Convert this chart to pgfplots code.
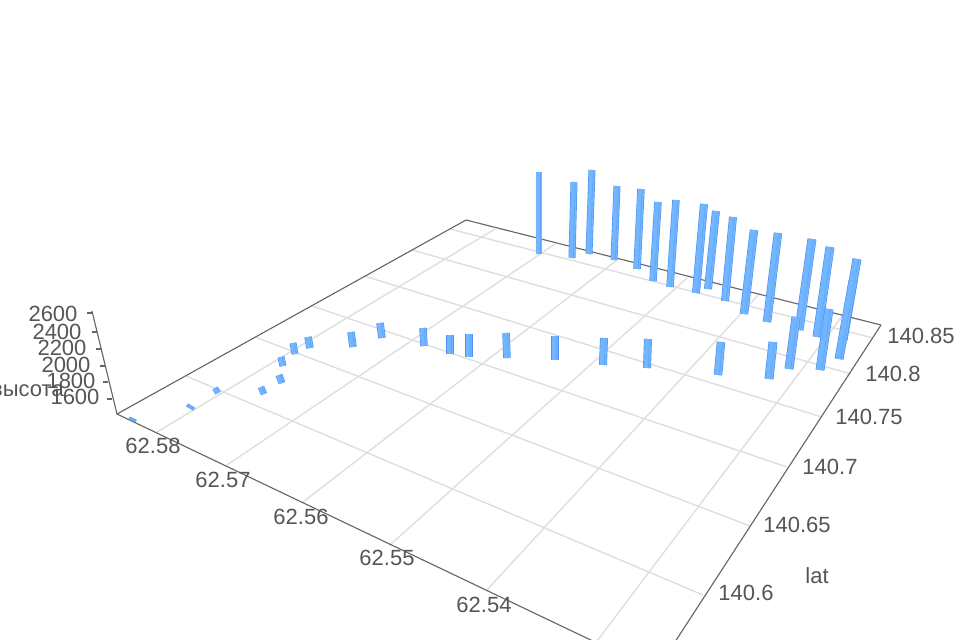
\documentclass[border=0pt]{standalone}
\usepackage{fontspec}
\setmainfont{Liberation Sans}
\usepackage{pgfplots}
\pgfplotsset{compat=1.18}
\definecolor{gridc}{HTML}{DEDEDE}
\definecolor{axisc}{HTML}{666666}
\definecolor{textc}{HTML}{555555}
\definecolor{barc}{HTML}{72B6FF}
\definecolor{barm}{HTML}{62A6FA}
\definecolor{bare}{HTML}{4F90F2}
% xb yb xt yt w (pixels)
\newcommand\BB[5]{%
  \addplot[color=bare,line width={(#5+1.0)*0.75pt}] coordinates {(#1,#2)(#3,#4)};
  \addplot[color=barc,line width={(#5-0.2)*0.75pt}] coordinates {(#1,#2)(#3,#4)};
  \pgfmathsetmacro\xa{#1+0.2*#5}\pgfmathsetmacro\xb{#3+0.2*#5}%
  \addplot[color=barm,line width=0.5pt] coordinates {(\xa,#2)(\xb,#4)};
}
\newcommand\GL[4]{\addplot[color=gridc,line width=1.05pt] coordinates {(#1,#2)(#3,#4)};}
\newcommand\AL[4]{\addplot[color=axisc,line width=0.85pt] coordinates {(#1,#2)(#3,#4)};}
\newcommand\LB[3]{\node[text=textc,font=\fontsize{16.5bp}{18bp}\selectfont,inner sep=0pt] at (axis cs:#1,#2) {#3};}
\begin{document}
\begin{tikzpicture}
\path[use as bounding box] (0,0) rectangle (720bp,480bp);
\begin{axis}[
  at={(0,0)},anchor=south west,
  scale only axis,width=720bp,height=480bp,
  xmin=0,xmax=960,ymin=0,ymax=640,y dir=reverse,
  hide axis,clip=true]
% grid lines toward the lat axis
\GL{157}{432}{495}{229}
\GL{227}{465}{555}{244}
\GL{303}{502}{617}{260}
\GL{390}{545}{687}{278}
\GL{487}{590}{758}{295}
\GL{594}{645}{843}{315}
\GL{186}{376}{703}{595}
\GL{255}{337}{750}{526}
\GL{312}{306}{787}{467}
\GL{364}{276}{822}{417}
\GL{412}{250}{851}{374}
\GL{450}{229}{873}{338}
% floor edges
\AL{117}{414}{466}{220}
\AL{466}{220}{881}{325}
\AL{881}{325}{673}{645}
\AL{117}{414}{597}{643}
% vertical axis and ticks
\AL{117}{414}{92}{311}
\AL{87}{313}{92}{313}
\AL{92}{332}{97}{332}
\AL{96}{349}{101}{349}
\AL{100}{366}{105}{366}
\AL{103}{382}{108}{382}
\AL{107}{399}{112}{399}
% flat bars
\BB{129}{418}{136}{421}{2}
\BB{187}{405}{194}{409}{2.5}
\BB{218}{393}{215}{388}{5}
% front row
\BB{264}{394}{261}{387}{5.5}
\BB{282}{383}{279}{375}{6}
\BB{283}{366}{281}{357}{6}
\BB{295}{354}{293}{343}{6}
\BB{310}{348}{308}{337}{6.5}
\BB{353}{347}{351}{332}{6.5}
\BB{382}{338}{380}{323}{6.5}
\BB{424}{346}{423}{328}{6.5}
\BB{450}{354}{450}{335}{7}
\BB{469}{357}{469}{334}{7}
\BB{507}{358}{506}{333}{6.5}
\BB{555}{360}{555}{336}{6.5}
\BB{603}{365}{604}{338}{7}
\BB{647}{368}{648}{339}{7}
\BB{718}{375}{721}{342}{7.5}
\BB{769}{379}{773}{342}{8}
% back row
\BB{539}{254}{539}{172}{5.5}
\BB{572}{258}{574}{182}{6}
\BB{589}{254}{592}{170}{6}
\BB{614}{260}{617}{186}{6}
\BB{637}{269}{641}{189}{6.5}
\BB{653}{281}{658}{202}{6.5}
\BB{670}{287}{676}{200}{6.5}
\BB{708}{289}{716}{211}{7}
\BB{696}{293}{704}{204}{7}
\BB{725}{301}{733}{217}{7}
\BB{744}{314}{754}{230}{7.5}
\BB{767}{322}{778}{233}{7.5}
\BB{799}{330}{812}{239}{8}
\BB{817}{337}{830}{247}{8}
\BB{843}{340}{857}{259}{8}
% front bars overlapping the back row
\BB{789}{369}{796}{317}{8}
\BB{820}{370}{829}{309}{8}
\BB{839}{359}{853}{281}{8}
% labels
\LB{53}{314}{2600}
\LB{57}{332}{2400}
\LB{62}{348}{2200}
\LB{66}{365}{2000}
\LB{71}{381}{1800}
\LB{75}{397}{1600}
\node[text=textc,font=\fontsize{16.5bp}{18bp}\selectfont,inner sep=0pt,anchor=east] at (axis cs:64,391) {высота};
\LB{153}{446}{62.58}
\LB{223}{480}{62.57}
\LB{301}{517}{62.56}
\LB{387}{558}{62.55}
\LB{484}{605}{62.54}
\LB{746}{593}{140.6}
\LB{797}{525}{140.65}
\LB{830}{467}{140.7}
\LB{869}{417}{140.75}
\LB{893}{374}{140.8}
\LB{921}{336}{140.85}
\LB{817}{576}{lat}
\end{axis}
\end{tikzpicture}
\end{document}
